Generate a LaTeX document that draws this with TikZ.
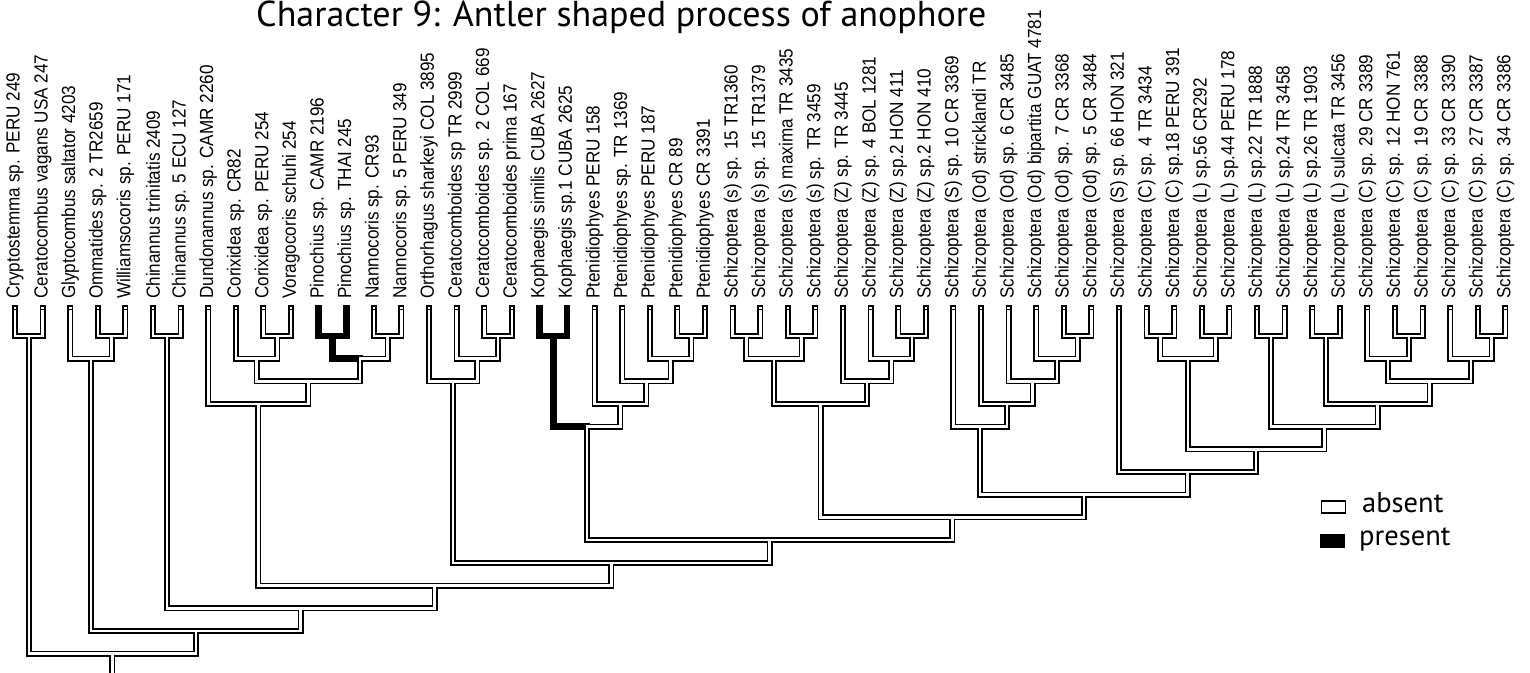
\documentclass[tikz,border=0pt]{standalone}
\usepackage{fontspec}
\setmainfont{Liberation Sans}
\newfontfamily\labelfont[FakeStretch=0.9]{Liberation Sans}
\newfontfamily\titlefont{PT Sans}
\usetikzlibrary{positioning, calc}

% branches with the character absent (drawn twice: black, then white core)
\def\absentedges{t1/n1-2, t2/n1-2,
  t3/n3-5, t4/n4-5, t5/n4-5, n4-5/n3-5,
  t6/n6-7, t7/n6-7,
  t8/n8-15, t9/n9-11, t10/n10-11, t11/n10-11, n10-11/n9-11,
  t14/n14-15, t15/n14-15, n14-15/n12-15, n9-11/n9-15, n12-15/n9-15, n9-15/n8-15,
  t16/n16-19, t17/n17-19, t18/n18-19, t19/n18-19, n18-19/n17-19, n17-19/n16-19,
  t22/n22-26, t23/n23-26, t24/n24-26, t25/n25-26, t26/n25-26,
  n25-26/n24-26, n24-26/n23-26, n23-26/n22-26, n22-26/n20-26,
  t27/n27-28, t28/n27-28, t29/n29-30, t30/n29-30, n27-28/n27-30, n29-30/n27-30,
  t31/n31-34, t32/n32-34, t33/n33-34, t34/n33-34, n33-34/n32-34, n32-34/n31-34,
  n27-30/n27-34, n31-34/n27-34,
  t35/n35-40, t36/n36-40, t37/n37-40, t38/n38-40, t39/n39-40, t40/n39-40,
  n39-40/n38-40, n38-40/n37-40, n37-40/n36-40, n36-40/n35-40,
  t41/n41-55, t42/n42-43, t43/n42-43, t44/n44-45, t45/n44-45, n42-43/n42-45, n44-45/n42-45,
  t46/n46-47, t47/n46-47, t48/n48-49, t49/n48-49, t50/n50-52, t51/n51-52, t52/n51-52,
  n51-52/n50-52, t53/n53-55, t54/n54-55, t55/n54-55, n54-55/n53-55,
  n50-52/n50-55, n53-55/n50-55, n48-49/n48-55, n50-55/n48-55, n46-47/n46-55, n48-55/n46-55,
  n42-45/n42-55, n46-55/n42-55, n42-55/n41-55,
  n35-40/n35-55, n41-55/n35-55, n27-34/n27-55, n35-55/n27-55,
  n20-26/n20-55, n27-55/n20-55, n16-19/n16-55, n20-55/n16-55,
  n8-15/n8-55, n16-55/n8-55, n6-7/n6-55, n8-55/n6-55,
  n3-5/n3-55, n6-55/n3-55, n1-2/n1-55, n3-55/n1-55}

\begin{document}
\begin{tikzpicture}[x=1pt, y=-1pt,
    branch/.style={line width=6pt, line cap=rect, line join=miter},
    present/.style={line width=6.6pt, line cap=rect, line join=miter},
    gap/.style={white, line width=2.6pt, line cap=rect, line join=miter},
    taxon/.style={rotate=90, anchor=west, inner sep=0pt, font=\labelfont\fontsize{19}{19}\selectfont},
    key/.style={minimum width=24pt, minimum height=12pt, inner sep=0pt, draw=black, line width=1.3pt},
    keytext/.style={font=\titlefont\fontsize{28.5}{28.5}\selectfont, inner sep=0pt, anchor=base west}]

    \useasboundingbox (0,0) rectangle (1530,672);

    % title
    \node[font=\titlefont\fontsize{36}{36}\selectfont, anchor=base west, inner sep=0pt] (title) at (256,26.5)
        {Character 9: Antler shaped process of anophore};

    % taxa: label and tip
    \foreach \name [count=\i] in {
        {Cryptostemma sp. PERU 249}, {Ceratocombus vagans USA 247}, {Glyptocombus saltator 4203},
        {Ommatides sp. 2 TR2659}, {Williamsocoris sp. PERU 171}, {Chinannus trinitatis 2409},
        {Chinannus sp. 5 ECU 127}, {Dundonannus sp. CAMR 2260}, {Corixidea sp. CR82},
        {Corixidea sp. PERU 254}, {Voragocoris schuhi 254}, {Pinochius sp. CAMR 2196},
        {Pinochius sp. THAI 245}, {Nannocoris sp. CR93}, {Nannocoris sp. 5 PERU 349},
        {Orthorhagus sharkeyi COL 3895}, {Ceratocomboides sp TR 2999}, {Ceratocomboides sp. 2 COL 669},
        {Ceratocomboides prima 167}, {Kophaegis similis CUBA 2627}, {Kophaegis sp.1 CUBA 2625},
        {Ptenidiophyes PERU 158}, {Ptenidiophyes sp. TR 1369}, {Ptenidiophyes PERU 187},
        {Ptenidiophyes CR 89}, {Ptenidiophyes CR 3391}, {Schizoptera (s) sp. 15 TR1360},
        {Schizoptera (s) sp. 15 TR1379}, {Schizoptera (s) maxima TR 3435}, {Schizoptera (s) sp. TR 3459},
        {Schizoptera (Z) sp. TR 3445}, {Schizoptera (Z) sp. 4 BOL 1281}, {Schizoptera (Z) sp.2 HON 411},
        {Schizoptera (Z) sp.2 HON 410}, {Schizoptera (S) sp. 10 CR 3369}, {Schizoptera (Od) stricklandi TR},
        {Schizoptera (Od) sp. 6 CR 3485}, {Schizoptera (Od) bipartita GUAT 4781}, {Schizoptera (Od) sp. 7 CR 3368},
        {Schizoptera (Od) sp. 5 CR 3484}, {Schizoptera (S) sp. 66 HON 321}, {Schizoptera (C) sp. 4 TR 3434},
        {Schizoptera (C) sp.18 PERU 391}, {Schizoptera (L) sp.56 CR292}, {Schizoptera (L) sp.44 PERU 178},
        {Schizoptera (L) sp.22 TR 1888}, {Schizoptera (L) sp.24 TR 3458}, {Schizoptera (L) sp.26 TR 1903},
        {Schizoptera (L) sulcata TR 3456}, {Schizoptera (C) sp. 29 CR 3389}, {Schizoptera (C) sp. 12 HON 761},
        {Schizoptera (C) sp. 19 CR 3388}, {Schizoptera (C) sp. 33 CR 3390}, {Schizoptera (C) sp. 27 CR 3387},
        {Schizoptera (C) sp. 34 CR 3386}} {
        \node[taxon] (lab-\i) at ({15+(\i-1)*27.6}, 299) {\name};
        \coordinate (t\i) at ({15+(\i-1)*27.6}, 308);
    }

    % clades: name/child/child/level, placed midway above the bar level
    \foreach \cl/\ca/\cb/\lev in {n1-2/t1/t2/1, n4-5/t4/t5/1, n3-5/t3/n4-5/2, n6-7/t6/t7/1,
        n10-11/t10/t11/1, n9-11/t9/n10-11/2, n12-13/t12/t13/1, n14-15/t14/t15/1,
        n12-15/n12-13/n14-15/2, n9-15/n9-11/n12-15/3, n8-15/t8/n9-15/4,
        n18-19/t18/t19/1, n17-19/t17/n18-19/2, n16-19/t16/n17-19/3,
        n20-21/t20/t21/1, n25-26/t25/t26/1, n24-26/t24/n25-26/2, n23-26/t23/n24-26/3,
        n22-26/t22/n23-26/4, n20-26/n20-21/n22-26/5,
        n27-28/t27/t28/1, n29-30/t29/t30/1, n27-30/n27-28/n29-30/2,
        n33-34/t33/t34/1, n32-34/t32/n33-34/2, n31-34/t31/n32-34/3, n27-34/n27-30/n31-34/4,
        n39-40/t39/t40/1, n38-40/t38/n39-40/2, n37-40/t37/n38-40/3, n36-40/t36/n37-40/4,
        n35-40/t35/n36-40/5,
        n42-43/t42/t43/1, n44-45/t44/t45/1, n42-45/n42-43/n44-45/2,
        n46-47/t46/t47/1, n48-49/t48/t49/1, n51-52/t51/t52/1, n50-52/t50/n51-52/2,
        n54-55/t54/t55/1, n53-55/t53/n54-55/2, n50-55/n50-52/n53-55/3,
        n48-55/n48-49/n50-55/4, n46-55/n46-47/n48-55/5, n42-55/n42-45/n46-55/6,
        n41-55/t41/n42-55/7, n35-55/n35-40/n41-55/8, n27-55/n27-34/n35-55/9,
        n20-55/n20-26/n27-55/10, n16-55/n16-19/n20-55/11, n8-55/n8-15/n16-55/12,
        n6-55/n6-7/n8-55/13, n3-55/n3-5/n6-55/14, n1-55/n1-2/n3-55/15} {
        \path let \p1=($(\ca)!.5!(\cb)$) in coordinate (\cl) at (\x1, {-(335.8+(\lev-1)*22.7)*1pt});
    }
    \coordinate (base) at ($(n1-55)+(0,40)$);

    % black pass
    \foreach \c/\p in \absentedges
        \draw[branch] (\c) |- (\p);
    \draw[branch] (n1-55) -- (base);
    \foreach \c/\p in {t12/n12-13, t13/n12-13, n12-13/n12-15, t20/n20-21, t21/n20-21, n20-21/n20-26}
        \draw[present] (\c) |- (\p);

    % white pass
    \foreach \c/\p in \absentedges
        \draw[gap] (\c) |- (\p);
    \draw[gap] (n1-55) -- (base);

    % little box closing each open tip
    \foreach \i in {1,...,11,14,15,...,19,22,23,...,55}
        \draw[line width=1pt] ($(t\i)+(-2.7,1.2)$) -- ($(t\i)+(2.7,1.2)$);

    % legend
    \node[key, fill=white] (key-absent) at (1333.3,507) {};
    \node[keytext] (txt-absent) at (1362,512.7) {absent};
    \node[key, fill=black] (key-present) at (1332.5,541) {};
    \node[keytext] (txt-present) at (1359,545) {present};
\end{tikzpicture}
\end{document}
